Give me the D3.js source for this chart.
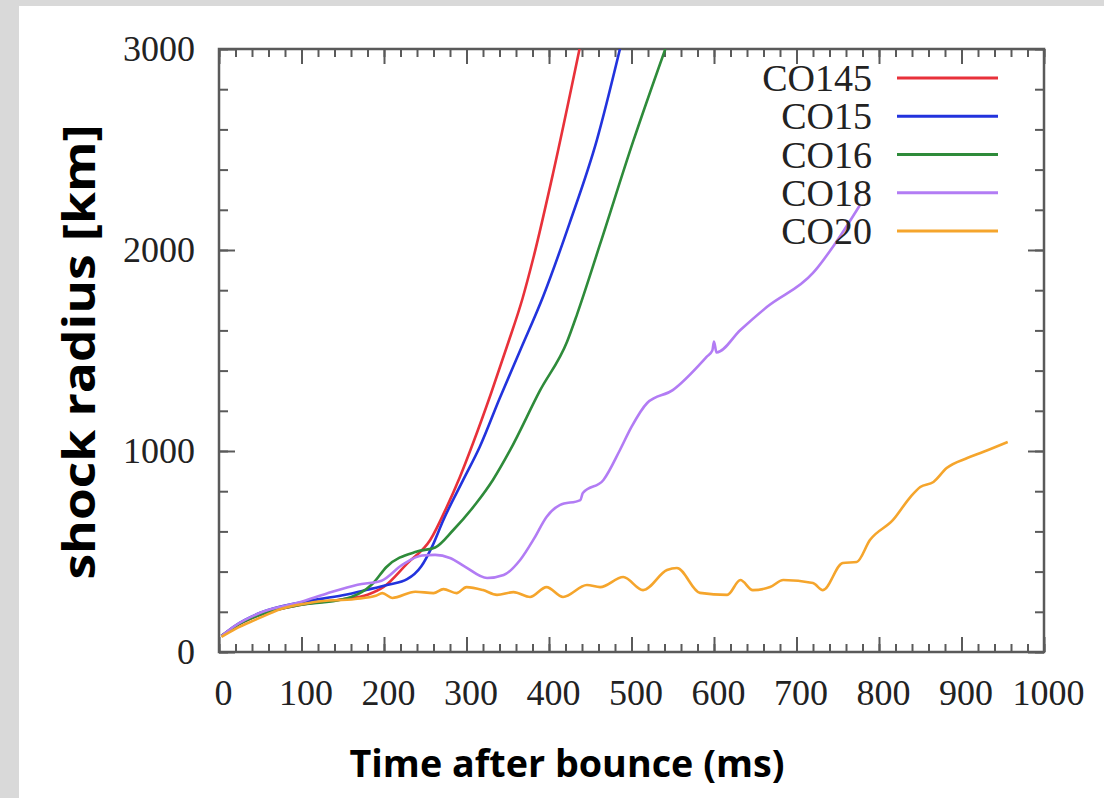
<!DOCTYPE html>
<html lang="en">
<head>
    <meta charset="UTF-8">
    <title>Shock radius vs time after bounce</title>
    <script src="https://d3js.org/d3.v7.min.js"></script>
    <style>
        body { margin: 0; background: #d9d9d9; }
        svg { display: block; }
    </style>
</head>
<body>
    <svg id="chart" width="1104" height="798"></svg>

    <script>
        // series names and colours
        const models = ["CO145", "CO15", "CO16", "CO18", "CO20"];
        const colors = ["#e8313a", "#2233dd", "#2e8b3a", "#b27cf4", "#f5a52c"];

        // [time after bounce (ms), shock radius (km)]
        const co145 = [[3,80],[20,128],[50,185],[100,235],[150,262],[180,285],[200,325],[228,440],[256,557],[276,721],
            [292,871],[308,1040],[330,1290],[349,1520],[368,1760],[381,1960],[405,2383],[437,3000]];
        const co15 = [[3,80],[20,132],[50,195],[100,248],[150,282],[180,310],[205,335],[228,362],[245,425],[258,522],
            [272,657],[296,856],[316,1020],[340,1260],[365,1500],[393,1770],[425,2134],[458,2547],[486,3000]];
        const co16 = [[3,80],[20,128],[50,185],[100,235],[150,262],[187,343],[203,423],[240,500],[262,520],[284,607],
            [312,741],[332,856],[353,1005],[389,1300],[422,1545],[434,1680],[462,2030],[502,2540],[541,3000]];
        const co18 = [[3,80],[20,132],[50,195],[100,250],[130,290],[168,335],[197,355],[222,433],[246,480],[262,483],
            [280,468],[298,425],[325,368],[345,383],[365,458],[382,565],[397,672],[413,731],[438,756],[441,791],
            [466,856],[486,1005],[500,1120],[519,1239],[550,1303],[591,1468],[598,1500],[600,1545],[603,1490],
            [632,1602],[664,1716],[720,1886],[725,1910],[744,2015],[777,2224]];
        const co20 = [[3,75],[20,115],[44,160],[76,215],[116,249],[165,264],[190,280],[198,293],[210,269],[238,300],
            [260,293],[272,313],[288,293],[300,323],[320,308],[337,284],[357,298],[377,274],[397,323],[417,274],
            [446,333],[462,323],[490,373],[514,308],[543,408],[555,418],[583,294],[616,284],[632,358],[647,308],
            [668,323],[684,358],[720,343],[732,308],[756,443],[773,448],[789,557],[817,657],[838,771],[850,821],
            [866,846],[882,915],[907,965],[926,995],[956,1045]];
        const seriesData = [co145, co15, co16, co18, co20];

        const xTicks = [0, 100, 200, 300, 400, 500, 600, 700, 800, 900, 1000];
        const yTicks = [0, 1000, 2000, 3000];

        const svg = d3.select("#chart");

        // white panel (grey strip shows at left and top)
        svg.append("rect")
            .attr("x", 19).attr("y", 6)
            .attr("width", 1104 - 19).attr("height", 798 - 6)
            .attr("fill", "#fff");

        const x = d3.scaleLinear().domain([0, 1000]).range([219, 1044]);
        const y = d3.scaleLinear().domain([0, 3000]).range([652, 49]);

        svg.append("defs").append("clipPath").attr("id", "plot-clip")
            .append("rect")
            .attr("x", x(0)).attr("y", y(3000))
            .attr("width", x(1000) - x(0)).attr("height", y(0) - y(3000));

        const axisColor = "#5a5a5a";
        const serif = "'Liberation Serif', 'Times New Roman', serif";

        const xMinor = d3.range(0, 1001, 20);
        const yMinor = d3.range(0, 3001, 200);

        function styleAxis(g) {
            g.select(".domain").remove();
            g.selectAll("line").attr("stroke", axisColor).attr("stroke-width", 2);
            g.selectAll("text").attr("font-family", serif).attr("font-size", 36).attr("fill", "#222");
        }

        // bottom
        svg.append("g").attr("transform", `translate(0,${y(0)})`)
            .call(d3.axisBottom(x).tickValues(xMinor).tickSize(-8).tickFormat(""))
            .call(styleAxis);
        svg.append("g").attr("transform", `translate(0,${y(0)})`)
            .call(d3.axisBottom(x).tickValues(xTicks).tickSize(-15).tickPadding(27).tickFormat(d3.format("d")))
            .call(styleAxis)
            .selectAll("text").attr("dx", 4);
        // top
        svg.append("g").attr("transform", `translate(0,${y(3000)})`)
            .call(d3.axisTop(x).tickValues(xMinor).tickSize(-8).tickFormat(""))
            .call(styleAxis);
        svg.append("g").attr("transform", `translate(0,${y(3000)})`)
            .call(d3.axisTop(x).tickValues(xTicks).tickSize(-15).tickFormat(""))
            .call(styleAxis);
        // left
        svg.append("g").attr("transform", `translate(${x(0)},0)`)
            .call(d3.axisLeft(y).tickValues(yMinor).tickSize(-9).tickFormat(""))
            .call(styleAxis);
        svg.append("g").attr("transform", `translate(${x(0)},0)`)
            .call(d3.axisLeft(y).tickValues(yTicks).tickSize(-16).tickPadding(24).tickFormat(d3.format("d")))
            .call(styleAxis);
        // right
        svg.append("g").attr("transform", `translate(${x(1000)},0)`)
            .call(d3.axisRight(y).tickValues(yMinor).tickSize(-9).tickFormat(""))
            .call(styleAxis);
        svg.append("g").attr("transform", `translate(${x(1000)},0)`)
            .call(d3.axisRight(y).tickValues(yTicks).tickSize(-16).tickFormat(""))
            .call(styleAxis);

        // frame
        svg.append("rect")
            .attr("x", x(0)).attr("y", y(3000))
            .attr("width", x(1000) - x(0)).attr("height", y(0) - y(3000))
            .attr("fill", "none").attr("stroke", axisColor).attr("stroke-width", 2.5);

        // curves
        const line = d3.line().x(d => x(d[0])).y(d => y(d[1])).curve(d3.curveMonotoneX);

        svg.append("g").attr("clip-path", "url(#plot-clip)")
            .selectAll("path")
            .data(seriesData)
            .join("path")
            .attr("d", line)
            .attr("fill", "none")
            .attr("stroke", (d, i) => colors[i])
            .attr("stroke-width", 2.6)
            .attr("stroke-linejoin", "round");

        // legend
        const legendY = d3.scalePoint().domain(models).range([78, 231]);
        const legend = svg.append("g");
        legend.selectAll("text")
            .data(models)
            .join("text")
            .attr("x", 872)
            .attr("y", d => legendY(d) + 13)
            .attr("text-anchor", "end")
            .attr("font-family", serif)
            .attr("font-size", 38)
            .attr("fill", "#222")
            .text(d => d);
        legend.selectAll("line")
            .data(models)
            .join("line")
            .attr("x1", 897).attr("x2", 998)
            .attr("y1", d => legendY(d)).attr("y2", d => legendY(d))
            .attr("stroke", (d, i) => colors[i])
            .attr("stroke-width", 3);

        // axis titles
        svg.append("text")
            .attr("x", 567).attr("y", 777)
            .attr("text-anchor", "middle")
            .attr("font-family", "'Open Sans', sans-serif")
            .attr("font-weight", 700)
            .attr("font-size", 38)
            .attr("textLength", 435)
            .attr("lengthAdjust", "spacingAndGlyphs")
            .attr("fill", "#000")
            .text("Time after bounce (ms)");

        svg.append("text")
            .attr("transform", "translate(95,352) rotate(-90)")
            .attr("text-anchor", "middle")
            .attr("font-family", "'Open Sans', sans-serif")
            .attr("font-weight", 700)
            .attr("font-size", 44)
            .attr("textLength", 455)
            .attr("lengthAdjust", "spacingAndGlyphs")
            .attr("fill", "#000")
            .text("shock radius [km]");
    </script>
</body>
</html>
